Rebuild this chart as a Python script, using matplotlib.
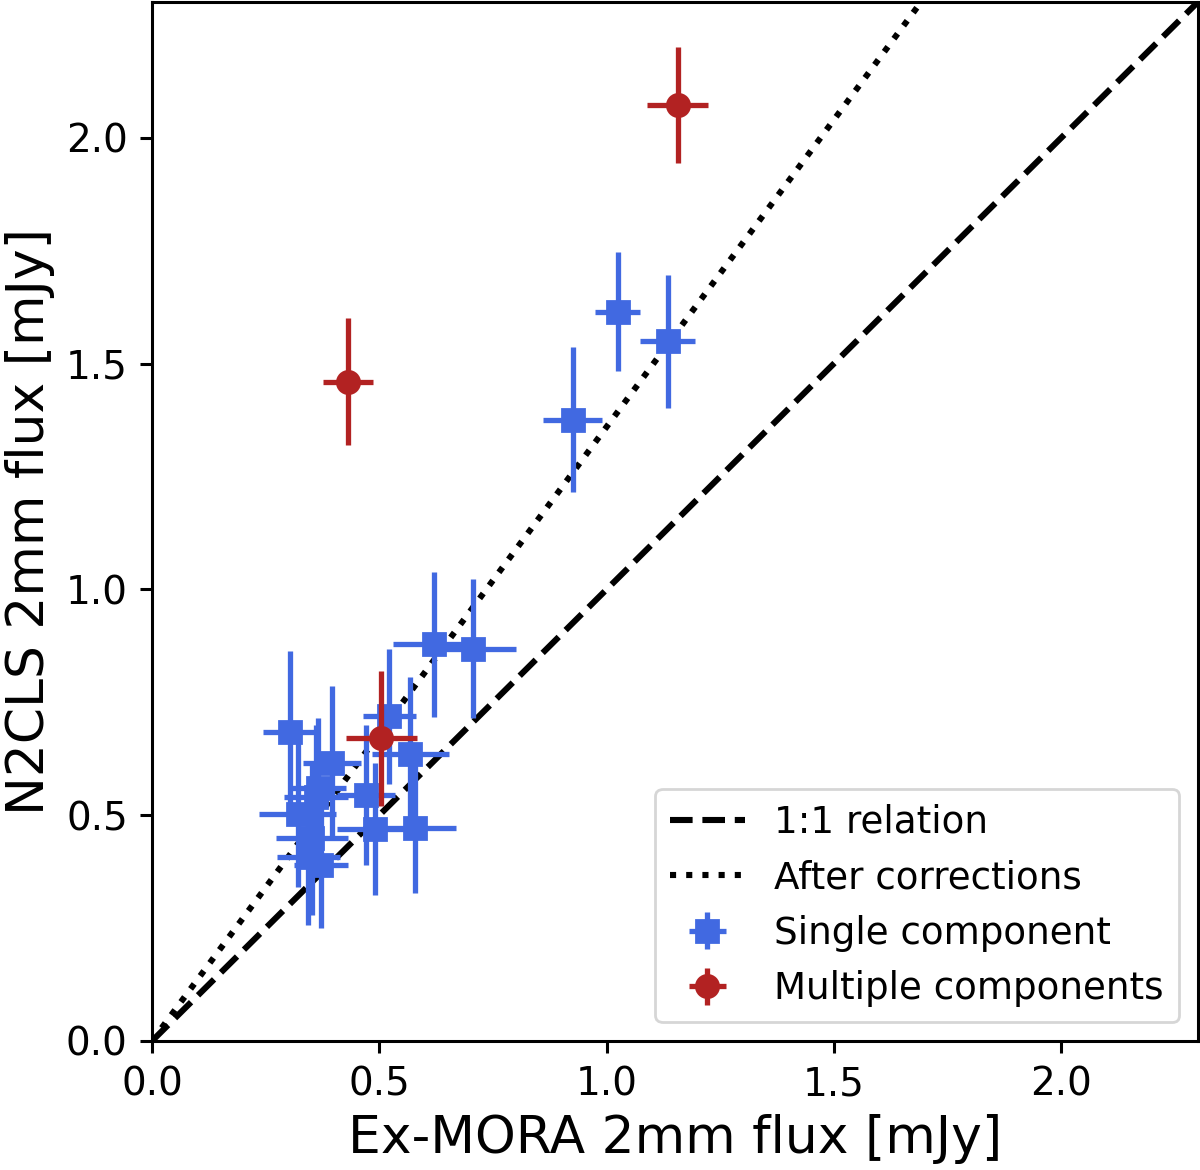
import numpy as np
import matplotlib
matplotlib.use('Agg')
import matplotlib.pyplot as plt

# single-component sources (Ex-MORA vs N2CLS, mJy)
single_x = [0.304, 0.396, 0.366, 0.320, 0.360, 0.352, 0.344, 0.372, 0.471, 0.491,
            0.522, 0.568, 0.579, 0.621, 0.707, 0.925, 1.024, 1.134]
single_y = [0.684, 0.615, 0.560, 0.502, 0.540, 0.450, 0.407, 0.390, 0.544, 0.469,
            0.719, 0.635, 0.471, 0.878, 0.869, 1.376, 1.615, 1.549]
single_xerr = [0.060, 0.063, 0.060, 0.085, 0.070, 0.080, 0.070, 0.060, 0.064, 0.084,
               0.058, 0.085, 0.090, 0.092, 0.093, 0.065, 0.050, 0.060]
single_yerr = [0.180, 0.170, 0.155, 0.160, 0.160, 0.170, 0.150, 0.140, 0.155, 0.146,
               0.150, 0.170, 0.144, 0.160, 0.153, 0.160, 0.132, 0.148]

# multiple-component sources
multi_x = [0.430, 1.156, 0.504]
multi_y = [1.460, 2.073, 0.670]
multi_xerr = [0.055, 0.067, 0.078]
multi_yerr = [0.140, 0.128, 0.150]

CORR_SLOPE = 1.36
LIM = 2.3

plt.rcParams['font.family'] = ['DejaVu Sans']
fig, ax = plt.subplots(figsize=(6, 5.85), dpi=200)
fig.subplots_adjust(left=0.1267, right=0.998, bottom=0.1103, top=0.998)

xx = np.array([0, LIM])
ax.plot(xx, xx, ls='--', color='black', lw=2.2, label='1:1 relation')
ax.plot(xx, CORR_SLOPE * xx, ls=':', color='black', lw=2.2, label='After corrections')

ax.errorbar(single_x, single_y, xerr=single_xerr, yerr=single_yerr, fmt='s',
            color='royalblue', ms=8, elinewidth=1.9, capsize=0,
            label='Single component', zorder=3)
ax.errorbar(multi_x, multi_y, xerr=multi_xerr, yerr=multi_yerr, fmt='o',
            color='firebrick', ms=8, elinewidth=1.9, capsize=0,
            label='Multiple components', zorder=4)

ax.set_xlim(0, LIM)
ax.set_ylim(0, LIM)
ax.set_xticks([0.0, 0.5, 1.0, 1.5, 2.0])
ax.set_yticks([0.0, 0.5, 1.0, 1.5, 2.0])
ax.tick_params(labelsize=14, length=4.2, width=1.1, pad=4.5)
for s in ax.spines.values():
    s.set_linewidth(1.1)

ax.set_xlabel('Ex-MORA 2mm flux [mJy]', fontsize=18.7)
ax.set_ylabel('N2CLS 2mm flux [mJy]', fontsize=18.7)
ax.legend(loc='lower right', fontsize=13.4)

plt.savefig('out.png', dpi=200)
